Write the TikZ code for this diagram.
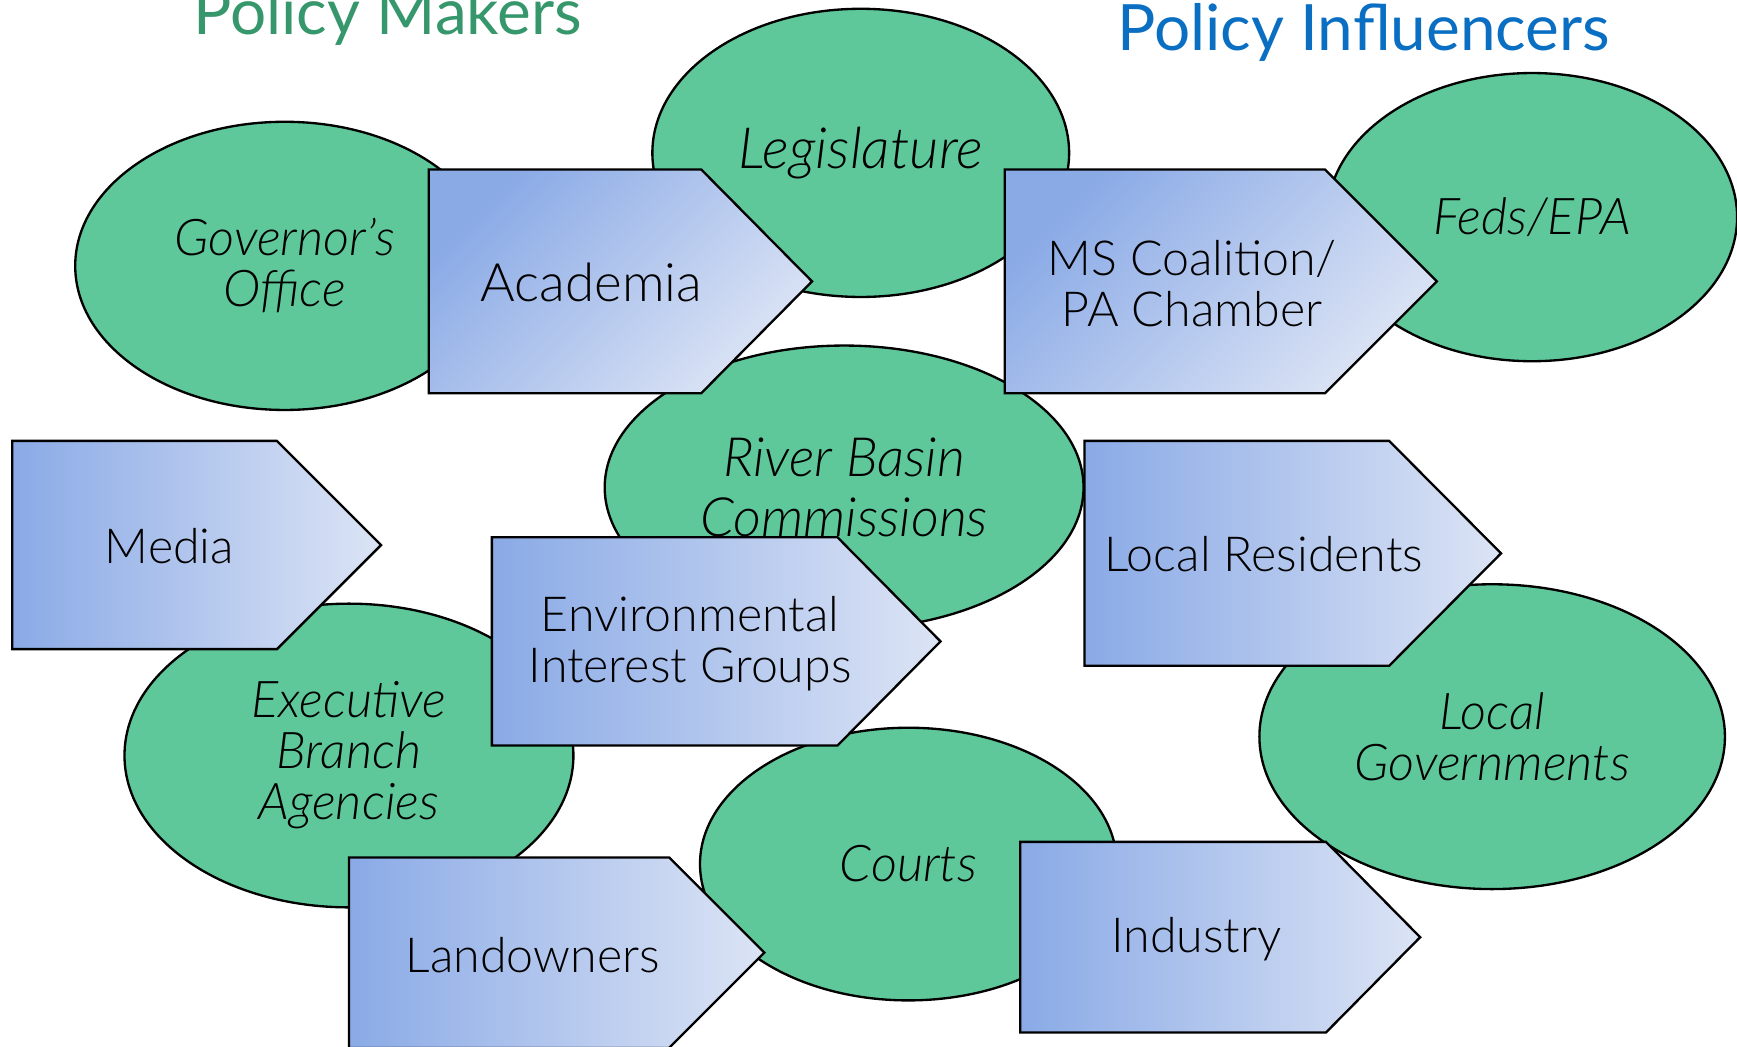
\documentclass[tikz,border=0pt]{standalone}
\usepackage{fontspec}
\setmainfont{Lato}[UprightFont=* Light, ItalicFont=* Light Italic]
\newfontfamily\titlefont{Lato}
\usetikzlibrary{shapes.geometric}
\definecolor{ellgreen}{HTML}{5EC89B}
\definecolor{pentdark}{HTML}{8AAAE6}
\definecolor{pentlight}{HTML}{DCE4F5}
\definecolor{titlegreen}{HTML}{36976C}
\definecolor{titleblue}{HTML}{0A6FC2}
\tikzset{
  oval/.style={ellipse, draw=black, line width=0.6pt, fill=ellgreen, inner sep=0pt, align=center, font=\fontsize{13}{13.1}\selectfont\itshape},
  pentline/.style={draw=black, line width=0.6pt},
  hshade/.style={left color=pentdark, right color=pentlight},
  dshade/.style={top color=pentdark, bottom color=pentlight, shading angle=45},
  boxtext/.style={align=center, font=\fontsize{12.4}{13.1}\selectfont},
  titletext/.style={font=\titlefont\fontsize{16.4}{19}\selectfont, anchor=base}
}
\newcommand{\pentagon}[6]{\path[pentline,#1] (#2,#3) -- (#4,#3) -- (#6,{(#3+#5)/2}) -- (#4,#5) -- (#2,#5) -- cycle;}
\begin{document}
\begin{tikzpicture}[x=0.01cm, y=-0.01cm]
\useasboundingbox (0,0) rectangle (1568,945);
% titles
\node[titletext, text=titlegreen] (makers) at (350,31) {Policy Makers};
\node[titletext, text=titleblue] (influencers) at (1231,46) {Policy Influencers};
% ellipses
\node[oval, minimum width=3.78cm, minimum height=2.6cm] (gov) at (257,240) {Governor’s\\Office};
\node[oval, minimum width=3.76cm, minimum height=2.6cm, font=\fontsize{14.6}{15}\selectfont\itshape] (leg) at (777,138) {Legislature};
\node[oval, minimum width=3.70cm, minimum height=2.6cm] (feds) at (1383,196) {Feds/EPA};
\node[oval, minimum width=4.32cm, minimum height=2.56cm, font=\fontsize{13.9}{15.4}\selectfont\itshape] (river) at (762,440) {River Basin\\Commissions};
\node[oval, minimum width=4.05cm, minimum height=2.74cm] (exec) at (315,682) {Executive\\Branch\\Agencies};
\node[oval, minimum width=4.20cm, minimum height=2.75cm] (localgov) at (1347,665) {Local\\Governments};
\node[oval, minimum width=3.76cm, minimum height=2.46cm] (courts) at (820,780) {Courts};
% pentagons
\pentagon{dshade}{387}{153}{633}{355}{733}
\node[boxtext, font=\fontsize{13.6}{13.1}\selectfont] (academia) at (534,255) {Academia};
\pentagon{dshade}{907}{153}{1196}{355}{1297}
\node[boxtext] (ms) at (1076,256) {MS Coalition/\\PA Chamber};
\pentagon{hshade}{11}{398}{250}{586}{344}
\node[boxtext] (media) at (153,493) {Media};
\pentagon{hshade}{979}{398}{1254}{601}{1355}
\node[boxtext] (locres) at (1141,500) {Local Residents};
\pentagon{hshade}{444}{485}{756}{673}{849}
\node[boxtext] (env) at (623,581) {Environmental\\Interest Groups};
\pentagon{hshade}{315}{774}{604}{946}{690}
\node[boxtext] (land) at (481,862) {Landowners};
\pentagon{hshade}{921}{760}{1197}{932}{1282}
\node[boxtext] (industry) at (1080,848) {Industry};
\end{tikzpicture}
\end{document}
